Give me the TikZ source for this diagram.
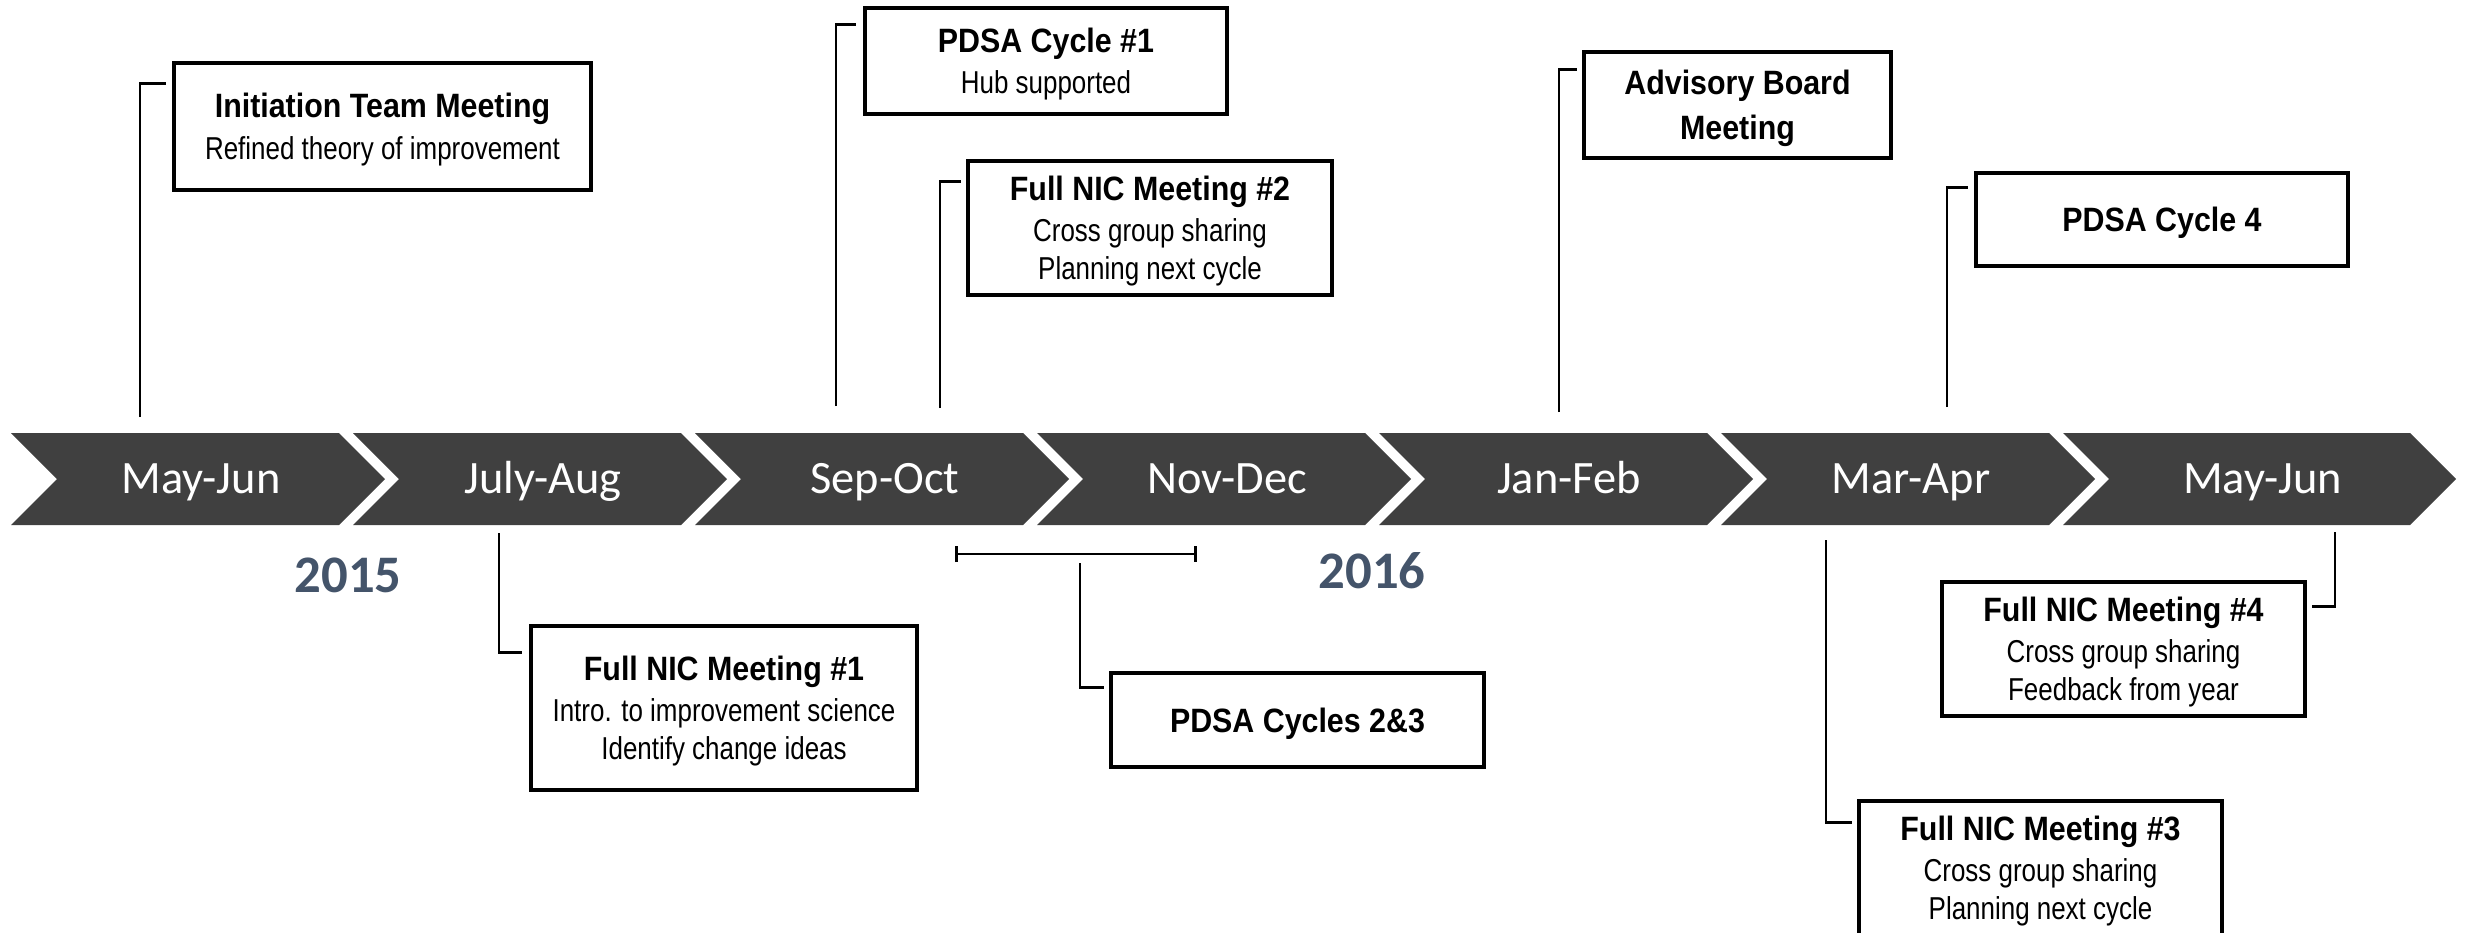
\documentclass[tikz,border=0pt]{standalone}
\usepackage{fontspec}
\setmainfont{Liberation Sans}
\newfontfamily\narrowfont[FakeStretch=0.82]{Liberation Sans}
\newfontfamily\headfont[FakeStretch=0.9]{Liberation Sans}
\newfontfamily\bandfont{Carlito}
\newcommand{\hd}[1]{{\headfont\bfseries\fontsize{9.6}{11.5}\selectfont #1}}
\definecolor{bandgray}{HTML}{404040}
\definecolor{yearblue}{HTML}{44546A}
\usetikzlibrary{arrows.meta}

\begin{document}
\begin{tikzpicture}[x=0.01cm,y=-0.01cm,evbox/.style={draw,line width=1pt,fill=white,align=center,inner sep=0pt,text depth=-2.5pt,font=\narrowfont\fontsize{9}{10.8}\selectfont},link/.style={line width=0.8pt},month/.style={anchor=base,text=white,font=\bandfont\fontsize{13.2}{15}\selectfont},year/.style={anchor=base,text=yearblue,font=\bandfont\bfseries\fontsize{15}{18}\selectfont}]
\path[use as bounding box,clip] (0,0) rectangle (2465,933); \fill[white] (0,0) rectangle (2465,933);
% timeline band
\foreach \m/\w [count=\i from 0] in {May-Jun/328,July-Aug/328,Sep-Oct/328,Nov-Dec/328,Jan-Feb/328,Mar-Apr/328,May-Jun/347}{
  \pgfmathsetmacro\xl{11+342*\i}
  \fill[bandgray] (\xl,433) -- ++(\w,0) -- ++(46,46) -- ++(-46,46) -- ++(-\w,0) -- ++(46,-46) -- cycle;
  \node[month] (m\i) at (\xl+\w/2+26,493) {\m};
}
\node[year] (y2015) at (348,592) {2015}; \node[year] (y2016) at (1372,588) {2016};
% boxes above
\node[evbox,minimum width=4.17cm,minimum height=1.27cm] (init) at (382.5,126.5) {\hd{Initiation Team Meeting}\\[1pt] Refined theory of improvement};
\node[evbox,minimum width=3.62cm,minimum height=1.06cm] (pdsa1) at (1046,61) {\hd{PDSA Cycle \#1}\\[1pt] Hub supported};
\node[evbox,minimum width=3.64cm,minimum height=1.34cm] (nic2) at (1150,228) {\hd{Full NIC Meeting \#2}\\[1pt] Cross group sharing\\ Planning next cycle};
\node[evbox,minimum width=3.07cm,minimum height=1.06cm] (board) at (1737.5,105) {\hd{Advisory Board}\\[2pt] \hd{Meeting}};
\node[evbox,minimum width=3.72cm,minimum height=0.93cm] (pdsa4) at (2162,219.5) {\hd{PDSA Cycle 4}};
% boxes below
\node[evbox,minimum width=3.86cm,minimum height=1.64cm] (nic1) at (724,708) {\hd{Full NIC Meeting \#1}\\[1pt] Intro. to improvement science\\ Identify change ideas};
\node[evbox,minimum width=3.73cm,minimum height=0.94cm] (pdsa23) at (1297.5,720) {\hd{PDSA Cycles 2\&3}};
\node[evbox,minimum width=3.63cm,minimum height=1.34cm] (nic4) at (2123.5,649) {\hd{Full NIC Meeting \#4}\\[1pt] Cross group sharing\\ Feedback from year};
\node[evbox,minimum width=3.63cm,minimum height=1.34cm] (nic3) at (2040.5,868) {\hd{Full NIC Meeting \#3}\\[1pt] Cross group sharing\\ Planning next cycle};
% pins
\coordinate (initpin) at (140,417); \coordinate (pdsa1pin) at (836,406); \coordinate (nic2pin) at (940,408); \coordinate (boardpin) at (1559,412); \coordinate (pdsa4pin) at (1947,407);
\coordinate (nic1pin) at (499,533); \coordinate (nic3pin) at (1826,540); \coordinate (nic4pin) at (2335,532);
\coordinate (spanl) at (955,554); \coordinate (spanr) at (1197,554); \coordinate (spanpin) at (1080,563);
\draw[link] (initpin) |- ([shift={(-6,22)}]init.north west);
\draw[link] (pdsa1pin) |- ([shift={(-7,18)}]pdsa1.north west);
\draw[link] (nic2pin) |- ([shift={(-5,22)}]nic2.north west);
\draw[link] (boardpin) |- ([shift={(-5,19)}]board.north west);
\draw[link] (pdsa4pin) |- ([shift={(-6,16)}]pdsa4.north west);
\draw[link] (nic1pin) |- ([shift={(-7,28)}]nic1.north west);
\draw[link,{Bar[width=0.16cm]}-{Bar[width=0.16cm]}] (spanl) -- (spanr);
\draw[link] (spanpin) |- ([shift={(-5,16)}]pdsa23.north west);
\draw[link] (nic3pin) |- ([shift={(-5,23)}]nic3.north west);
\draw[link] (nic4pin) |- ([shift={(5,26)}]nic4.north east);
\end{tikzpicture}
\end{document}
